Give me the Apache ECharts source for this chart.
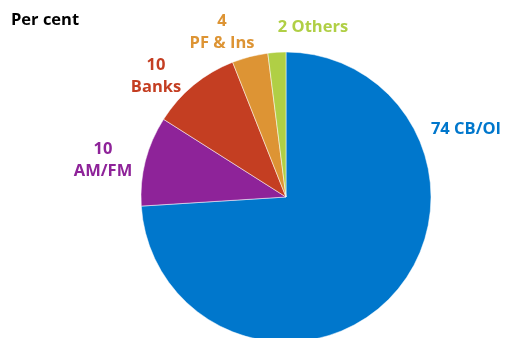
<!DOCTYPE html>
<html>
<head>
<meta charset="utf-8">
<script src="https://cdn.jsdelivr.net/npm/echarts@6/dist/echarts.min.js"></script>
<style>
  html, body { margin: 0; padding: 0; background: #fff; }
  #chart { width: 506px; height: 338px; }
</style>
</head>
<body>
<div id="chart"></div>
<script>
// Holder shares, per cent
const categories = ['CB/OI', 'AM/FM', 'Banks', 'PF & Ins', 'Others'];
const shares = [74, 10, 10, 4, 2];
const colors = ['#0077CC', '#8E2399', '#C43E22', '#DD9434', '#B0CF45'];

// label anchor points (centre of each label block)
const labelSpots = [
  { x: 466, y: 129 },
  { x: 103, y: 160 },
  { x: 156, y: 76 },
  { x: 222, y: 32 },
  { x: 313, y: 27 }
];
// which labels sit on one line
const oneLine = [true, false, false, false, true];

const chart = echarts.init(document.getElementById('chart'), null, { renderer: 'canvas' });
const FONT = '"Open Sans", "Noto Sans", sans-serif';

chart.setOption({
  animation: false,
  title: {
    text: 'Per cent',
    left: 6,
    top: 7,
    textStyle: { fontFamily: FONT, fontSize: 16.5, fontWeight: 'bold', color: '#000' }
  },
  series: [{
    type: 'pie',
    center: [286, 197],
    radius: 145,
    startAngle: 90,
    clockwise: true,
    data: categories.map((name, i) => ({
      name,
      value: shares[i],
      itemStyle: { color: colors[i] },
      label: { color: colors[i] }
    })),
    itemStyle: { borderColor: '#fff', borderWidth: 0.5 },
    label: {
      show: true,
      position: 'outside',
      fontFamily: FONT,
      fontSize: 16.5,
      fontWeight: 'bold',
      lineHeight: 22,
      align: 'center',
      overflow: 'none',
      formatter: p => oneLine[p.dataIndex] ? p.value + ' ' + p.name : p.value + '\n' + p.name
    },
    labelLine: { show: false },
    labelLayout: p => ({
      x: labelSpots[p.dataIndex].x,
      y: labelSpots[p.dataIndex].y,
      align: 'center',
      verticalAlign: 'middle'
    })
  }]
});
</script>
</body>
</html>
